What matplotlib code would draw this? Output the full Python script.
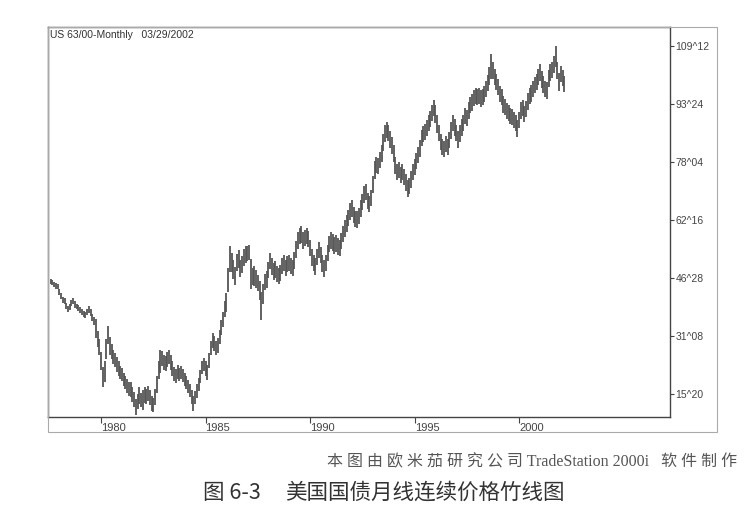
import numpy as np
import pandas as pd
import matplotlib
matplotlib.use("Agg")
import matplotlib.pyplot as plt
from matplotlib.patches import Rectangle

plt.rcParams['font.family'] = ['Liberation Sans', 'Noto Sans CJK SC', 'DejaVu Sans']

# monthly bars, Aug 1977 .. Mar 2002 (back-adjusted continuous contract)
months = pd.date_range('1977-08-01', '2002-03-01', freq='MS')

lows = [
    45.2, 45.0, 44.4, 44.0, 43.8,                                          # 1977
    42.4, 41.2, 40.2, 39.8, 38.6, 37.6, 38.2, 39.2, 39.8, 38.9, 38.4, 38.0,  # 1978
    37.4, 36.8, 36.4, 36.0, 36.9, 37.5, 36.7, 35.4, 34.2, 30.8, 28.2, 26.2,  # 1979
    22.0, 17.4, 18.8, 25.0, 29.0, 26.0, 25.0, 23.6, 22.8, 21.6, 20.6, 19.6,  # 1980
    19.0, 17.8, 17.0, 16.0, 15.2, 14.8, 13.6, 12.2, 9.9, 11.6, 13.0, 12.0,   # 1981
    11.4, 13.2, 13.0, 13.8, 12.6, 11.0, 10.8, 12.6, 15.8, 19.6, 21.4, 23.2,  # 1982
    22.2, 21.8, 23.0, 23.6, 22.0, 20.4, 19.0, 18.6, 19.8, 19.0, 19.6, 18.8,  # 1983
    17.8, 17.0, 15.8, 14.8, 12.8, 11.0, 12.8, 14.6, 16.4, 18.6, 21.0, 21.8,  # 1984
    20.6, 19.4, 22.6, 26.0, 28.0, 27.2, 26.0, 26.6, 29.0, 31.6, 33.8, 36.4,  # 1985
    37.8, 43.0, 48.5, 48.6, 46.6, 45.0, 48.8, 49.6, 47.2, 48.2, 50.2, 51.0,  # 1986
    51.4, 51.6, 44.0, 45.0, 44.8, 44.2, 43.4, 41.0, 35.6, 39.8, 43.6, 44.2,  # 1987
    46.8, 49.2, 47.8, 46.4, 47.0, 45.8, 45.2, 46.0, 48.0, 48.8, 47.4, 48.4,  # 1988
    48.8, 48.0, 47.4, 49.2, 52.2, 54.8, 56.0, 56.2, 54.8, 55.4, 56.0, 55.2,  # 1989
    52.8, 50.2, 48.8, 47.6, 50.4, 52.2, 50.8, 48.6, 47.2, 48.8, 51.4, 53.8,  # 1990
    54.8, 54.2, 53.4, 54.0, 53.2, 52.8, 54.6, 56.6, 58.0, 59.4, 60.8, 62.4,  # 1991
    63.4, 61.6, 60.6, 60.4, 61.4, 63.4, 65.2, 67.2, 67.8, 65.4, 64.6, 66.2,  # 1992
    69.8, 73.6, 75.2, 74.8, 76.4, 78.2, 81.2, 83.6, 84.6, 83.8, 82.0, 80.4,  # 1993
    78.0, 74.8, 73.2, 73.8, 72.4, 73.2, 71.8, 70.4, 68.8, 69.4, 71.2, 73.2,  # 1994
    74.6, 76.2, 77.8, 79.6, 82.4, 83.4, 84.0, 85.0, 86.4, 87.6, 89.2, 90.4,  # 1995
    88.6, 86.0, 83.8, 81.4, 80.0, 79.4, 80.8, 80.0, 81.8, 84.4, 86.4, 85.2,  # 1996
    83.8, 82.0, 83.6, 85.2, 86.4, 88.4, 87.8, 89.8, 91.2, 92.0, 93.2, 93.8,  # 1997
    93.4, 93.8, 93.0, 93.4, 94.2, 95.6, 97.2, 99.0, 100.6, 100.4, 98.8, 97.4,  # 1998
    96.2, 94.2, 93.4, 91.4, 90.8, 89.6, 89.2, 88.4, 88.0, 87.2, 86.4, 84.9,  # 1999
    87.2, 89.8, 90.4, 88.8, 90.2, 92.2, 93.8, 94.4, 95.6, 96.6, 97.4, 98.8,  # 2000
    100.0, 98.2, 96.8, 95.6, 95.2, 98.4, 100.0, 100.8, 102.2, 103.6, 100.4, 97.2,  # 2001
    99.6, 98.6, 97.0,                                                       # 2002
]

highs = [
    46.6, 46.4, 45.9, 45.4, 45.2,
    44.0, 42.9, 41.8, 41.4, 40.2, 39.3, 40.0, 40.9, 41.5, 40.6, 40.0, 39.6,
    39.0, 38.4, 38.0, 37.6, 38.6, 39.2, 38.4, 37.3, 36.4, 35.8, 32.6, 30.4,
    27.0, 23.0, 24.5, 30.5, 34.0, 31.0, 29.0, 27.5, 26.8, 25.6, 24.6, 23.2,
    22.6, 21.4, 20.6, 19.6, 18.8, 18.8, 17.6, 16.2, 14.2, 15.6, 17.6, 16.0,
    16.8, 17.6, 17.0, 17.8, 16.6, 15.2, 14.6, 17.0, 20.4, 24.4, 27.4, 27.2,
    26.2, 25.8, 27.0, 27.6, 26.0, 24.4, 23.0, 22.4, 23.4, 22.6, 23.2, 22.4,
    21.4, 20.6, 19.4, 18.4, 16.8, 15.0, 16.4, 18.2, 20.0, 22.2, 24.6, 25.4,
    24.6, 23.4, 26.6, 30.0, 32.0, 31.2, 30.0, 30.6, 33.0, 35.6, 37.8, 40.8,
    42.8, 49.6, 55.6, 53.6, 51.6, 49.8, 53.4, 54.4, 51.8, 52.8, 54.8, 55.4,
    55.6, 55.8, 52.0, 49.6, 50.2, 49.0, 47.8, 46.0, 43.0, 45.2, 48.0, 48.8,
    51.2, 53.6, 52.2, 50.8, 51.4, 50.2, 49.6, 50.4, 52.4, 53.2, 51.8, 52.8,
    53.2, 52.4, 51.8, 53.8, 56.8, 59.2, 60.4, 61.0, 59.2, 59.8, 60.4, 59.6,
    57.2, 54.6, 53.2, 52.2, 54.8, 56.6, 55.2, 53.0, 51.8, 53.2, 55.8, 58.2,
    59.2, 58.6, 57.8, 58.4, 57.6, 57.2, 59.0, 61.0, 62.4, 63.8, 65.2, 67.0,
    67.8, 66.0, 65.0, 64.8, 65.8, 67.8, 69.6, 71.6, 72.2, 69.8, 69.0, 70.6,
    74.4, 78.4, 79.6, 79.2, 80.8, 82.6, 85.8, 88.2, 89.0, 88.2, 86.4, 84.8,
    82.6, 79.6, 77.6, 78.2, 76.8, 77.6, 76.2, 74.8, 73.4, 73.8, 75.6, 77.6,
    79.0, 80.6, 82.2, 84.0, 86.8, 87.8, 88.4, 89.4, 90.8, 92.0, 93.6, 94.8,
    93.4, 90.8, 88.2, 85.8, 84.4, 83.8, 85.2, 84.4, 86.2, 88.8, 90.8, 89.6,
    88.2, 86.4, 88.0, 89.6, 90.8, 92.8, 92.2, 94.2, 95.6, 96.4, 97.6, 98.2,
    97.8, 98.2, 97.4, 97.8, 98.6, 100.0, 101.6, 103.6, 107.2, 105.0, 103.2, 101.8,
    100.6, 98.6, 97.8, 95.8, 95.2, 94.0, 93.6, 92.8, 92.4, 91.6, 90.8, 89.4,
    91.6, 94.2, 94.8, 93.2, 94.6, 96.6, 98.2, 98.8, 100.0, 101.0, 101.8, 103.2,
    104.4, 102.6, 101.2, 100.0, 99.6, 102.8, 104.4, 105.2, 106.6, 109.4, 105.2, 102.0,
    104.0, 103.0, 101.4,
]

# price scale in points and 32nds
ytick_vals = [15.625, 31.25, 46.875, 62.5, 78.125, 93.75, 109.375]
ytick_labels = ['15^20', '31^08', '46^28', '62^16', '78^04', '93^24', '109^12']
xtick_years = [1980, 1985, 1990, 1995, 2000]

header = 'US 63/00-Monthly   03/29/2002'
credit = '本 图 由 欧 米 茄 研 究 公 司 TradeStation 2000i   软 件 制 作'
fig_no = '图 6-3'
caption = '美国国债月线连续价格竹线图'

W, H = 754, 519
fig = plt.figure(figsize=(W / 100, H / 100), dpi=100)
fig.patch.set_facecolor('white')


def fx(px):
    return px / W


def fy(py):
    return 1 - py / H


ax = fig.add_axes([fx(48), fy(417), fx(670) - fx(48), fy(27) - fy(417)])

x = months.year + (months.month - 1) / 12.0
ax.vlines(x, lows, highs, color='#555555', lw=1.3)

ax.set_xlim(1977.46, 2007.22)
ax.set_ylim(9.43, 114.5)

ax.yaxis.tick_right()
ax.set_yticks(ytick_vals)
ax.set_yticklabels(ytick_labels)
ax.tick_params(axis='y', direction='out', length=3, width=0.8, pad=1,
               labelsize=7.5, colors='#444444')

ax.set_xticks(xtick_years)
ax.set_xticklabels([str(y) for y in xtick_years], ha='left')
ax.tick_params(axis='x', direction='out', length=4, width=0.8, pad=0,
               labelsize=8, colors='#444444')

for side in ['left', 'right', 'top', 'bottom']:
    ax.spines[side].set_color('#444444')
    ax.spines[side].set_linewidth(1.0)

ax.text(0.004, 0.992, header, transform=ax.transAxes, ha='left', va='top',
        fontsize=7.5, color='#333333')

# outer frame of the chart window
fig.add_artist(Rectangle((fx(48), fy(432)), fx(717) - fx(48), fy(27) - fy(432),
                         transform=fig.transFigure, fill=False,
                         edgecolor='#aaaaaa', lw=0.8))

fig.text(fx(327), fy(462), credit, ha='left', va='center', fontsize=11.5,
         color='#555555', family=['Liberation Serif', 'Noto Sans CJK SC'])
fig.text(fx(203), fy(493), fig_no, ha='left', va='center', fontsize=15.5,
         color='#333333', family=['Noto Sans CJK SC', 'DejaVu Sans'])
fig.text(fx(285), fy(493), caption, ha='left', va='center', fontsize=15.5,
         color='#333333', family=['Noto Sans CJK SC', 'DejaVu Sans'])

fig.savefig('out.png', dpi=100, facecolor='white')
